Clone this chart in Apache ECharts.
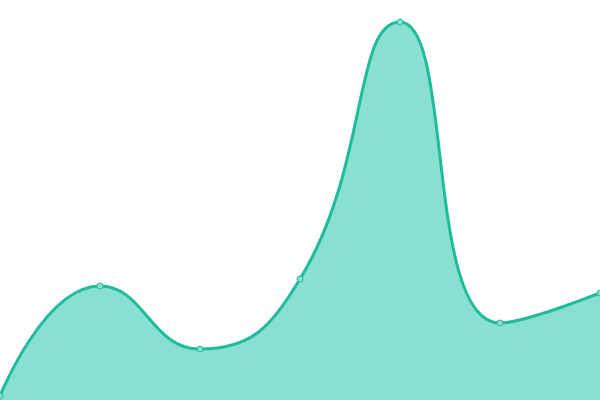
<!DOCTYPE html>
<html>
<head>
<meta charset="utf-8">
<script src="https://cdn.jsdelivr.net/npm/echarts@6/dist/echarts.min.js"></script>
<style>
html, body { margin: 0; padding: 0; background: #fff; }
#main { width: 600px; height: 400px; }
</style>
</head>
<body>
<div id="main"></div>
<script>
var categories = ['A', 'B', 'C', 'D', 'E', 'F', 'G'];
var values = [4, 114, 51, 121, 378, 77, 107];

var chart = echarts.init(document.getElementById('main'));
var option = {
    backgroundColor: '#fff',
    animation: false,
    grid: { left: 0, right: 0, top: 0, bottom: 0 },
    xAxis: {
        type: 'category',
        boundaryGap: false,
        data: categories,
        show: false
    },
    yAxis: {
        type: 'value',
        min: 0,
        max: 400,
        show: false
    },
    series: [{
        type: 'line',
        data: values,
        smooth: true,
        symbol: 'circle',
        symbolSize: 6,
        lineStyle: { color: '#1fbc9c', width: 3 },
        itemStyle: { color: '#8ae0d0', borderColor: '#1fbc9c', borderWidth: 1 },
        areaStyle: { color: '#8ae0d0', opacity: 1 }
    }]
};
chart.setOption(option);
</script>
</body>
</html>
